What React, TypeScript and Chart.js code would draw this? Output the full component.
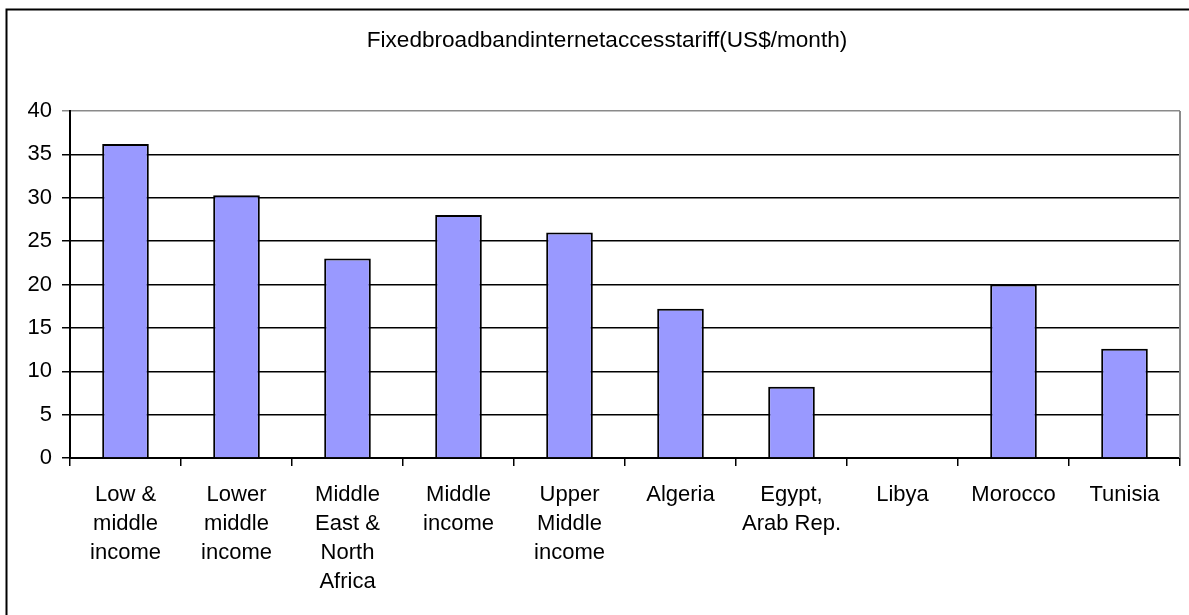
import React, { useEffect, useRef } from "react";
import { Chart, registerables } from "chart.js";

Chart.register(...registerables);

// Category labels (multi-line where the axis wraps them)
const categories: (string | string[])[] = [
  ["Low &", "middle", "income"],
  ["Lower", "middle", "income"],
  ["Middle", "East &", "North", "Africa"],
  ["Middle", "income"],
  ["Upper", "Middle", "income"],
  "Algeria",
  ["Egypt,", "Arab Rep."],
  "Libya",
  "Morocco",
  "Tunisia",
];

// Monthly fixed broadband tariff, US$
const tariffValues: (number | null)[] = [36.2, 30.3, 23, 28, 26, 17.2, 8.2, null, 20, 12.6];

const yTicks = [0, 5, 10, 15, 20, 25, 30, 35, 40];

const chartTitle = "Fixedbroadbandinternetaccesstariff(US$/month)";

const FONT = "'Liberation Sans', Arial, sans-serif";

const framePlugin = {
  id: "frame",
  beforeDraw(chart: any) {
    const ctx = chart.ctx;
    ctx.save();
    ctx.fillStyle = "#ffffff";
    ctx.fillRect(0, 0, chart.width, chart.height);
    // outer chart frame
    ctx.strokeStyle = "#000000";
    ctx.lineWidth = 2;
    ctx.beginPath();
    ctx.moveTo(6.5, chart.height + 10);
    ctx.lineTo(6.5, 9.5);
    ctx.lineTo(chart.width + 10, 9.5);
    ctx.stroke();
    ctx.restore();
  },
  afterDraw(chart: any) {
    const ctx = chart.ctx;
    const a = chart.chartArea;
    ctx.save();
    // plot area right edge
    ctx.strokeStyle = "#8a8a8a";
    ctx.lineWidth = 2;
    ctx.beginPath();
    ctx.moveTo(a.right, a.top);
    ctx.lineTo(a.right, a.bottom);
    ctx.stroke();
    // title
    ctx.fillStyle = "#000000";
    ctx.font = `22.6px ${FONT}`;
    ctx.textAlign = "center";
    ctx.textBaseline = "middle";
    ctx.fillText(chartTitle, 607, 41);
    ctx.restore();
  },
};

export default function App() {
  const canvasRef = useRef<HTMLCanvasElement | null>(null);

  useEffect(() => {
    if (!canvasRef.current) return;
    const chart = new Chart(canvasRef.current, {
      type: "bar",
      data: {
        labels: categories,
        datasets: [
          {
            data: tariffValues,
            backgroundColor: "#9999ff",
            borderColor: "#000000",
            borderWidth: 2,
            barPercentage: 0.42,
            categoryPercentage: 1,
          },
        ],
      },
      options: {
        animation: false,
        responsive: true,
        maintainAspectRatio: false,
        layout: { padding: { top: 111, left: 6, right: 9, bottom: 0 } },
        plugins: {
          legend: { display: false },
          title: { display: false },
          tooltip: { enabled: false },
        },
        scales: {
          x: {
            offset: true,
            afterFit(scale: any) {
              scale.height = 157;
            },
            grid: {
              offset: true,
              drawOnChartArea: false,
              drawTicks: true,
              tickLength: 8,
              color: "#000000",
              lineWidth: 1.5,
            },
            border: { display: true, color: "#000000", width: 2 },
            ticks: {
              color: "#000000",
              padding: 14,
              maxRotation: 0,
              autoSkip: false,
              font: { family: FONT, size: 22, lineHeight: 1.32 },
            },
          },
          y: {
            min: 0,
            max: 40,
            afterFit(scale: any) {
              scale.width = 64;
            },
            afterBuildTicks(scale: any) {
              scale.ticks = yTicks.map((v) => ({ value: v }));
            },
            grid: {
              drawTicks: true,
              tickLength: 8,
              color: (c: any) => (c.tick && c.tick.value === 40 ? "#8a8a8a" : "#000000"),
              lineWidth: 1.5,
            },
            border: { display: true, color: "#000000", width: 2 },
            ticks: {
              color: "#000000",
              padding: 10,
              font: { family: FONT, size: 22 },
            },
          },
        },
      },
      plugins: [framePlugin],
    });
    return () => chart.destroy();
  }, []);

  return (
    <div style={{ position: "fixed", left: 0, top: 0, width: 1189, height: 615, background: "#fff" }}>
      <canvas ref={canvasRef} />
    </div>
  );
}
